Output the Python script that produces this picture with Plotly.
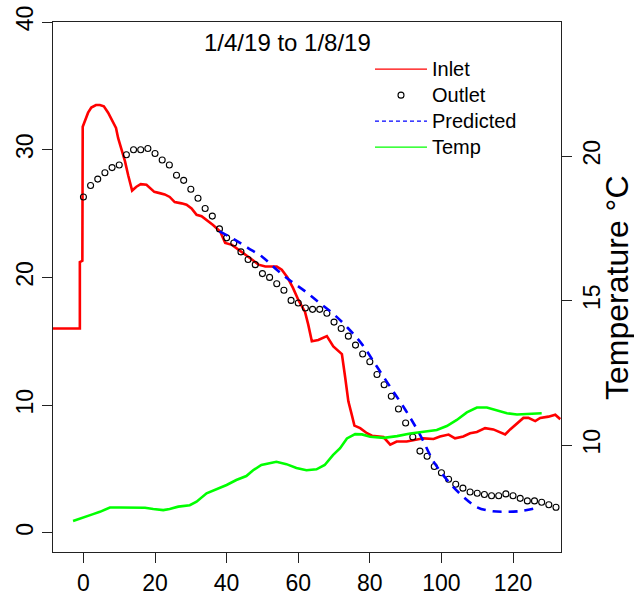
import plotly.graph_objects as go

# ---------------- data ----------------
inlet_x = [-9.0, -1.0, -1.0, -0.3, -0.2, 0.4, 1.3, 2.2, 3.5, 4.6, 5.7, 6.9, 8.1, 9.1, 9.7, 10.6,
           11.6, 12.5, 13.6, 14.8, 16.0, 17.6, 18.5, 19.8, 21.3, 22.7, 24.1, 25.5, 27.4, 28.8,
           30.2, 31.6, 33.0, 34.4, 36.2, 38.2, 39.6, 41.5, 42.8, 44.7, 46.6, 48.9, 50.8, 54.0,
           55.4, 57.0, 58.5, 60.1, 61.9, 62.8, 63.8, 65.6, 68.0, 69.8, 72.2, 73.1, 74.0, 75.0,
           75.7, 77.3, 79.2, 80.6, 83.8, 85.7, 87.5, 90.3, 92.7, 95.0, 97.8, 99.6, 102.0, 103.8,
           106.1, 108.0, 109.9, 112.2, 114.5, 116.4, 117.8, 119.2, 121.1, 122.9, 124.3, 126.2,
           127.6, 129.9, 131.8, 133.2]
inlet_y = [16.0, 16.0, 21.2, 21.3, 31.8, 32.2, 32.9, 33.3, 33.5, 33.5, 33.4, 32.9, 32.3, 31.7, 30.9, 30.1,
           29.1, 28.0, 26.8, 27.1, 27.3, 27.25, 27.0, 26.7, 26.6, 26.5, 26.3, 25.9, 25.8, 25.7,
           25.4, 24.9, 24.8, 24.5, 24.1, 23.6, 22.7, 22.55, 22.3, 21.9, 21.5, 21.0, 20.85, 20.85,
           20.6, 20.0, 19.2, 18.2, 17.3, 16.3, 15.0, 15.1, 15.4, 14.6, 14.0, 12.2, 10.3, 9.2,
           8.4, 8.2, 7.8, 7.6, 7.5, 6.9, 7.15, 7.15, 7.3, 7.4, 7.35, 7.55, 7.7, 7.4,
           7.55, 7.8, 7.9, 8.2, 8.1, 7.9, 7.7, 8.1, 8.6, 9.0, 9.0, 8.75,
           9.0, 9.1, 9.25, 8.9]

outlet_x = list(range(0, 133, 2))
outlet_y = [26.3, 27.2, 27.7, 28.2, 28.6, 28.8, 29.6, 30.0, 30.0, 30.1, 29.7, 29.2, 28.8, 28.0,
            27.6, 26.9, 26.2, 25.4, 24.8, 23.8, 23.1, 22.7, 22.0, 21.4, 21.0, 20.3, 20.0, 19.5,
            19.0, 18.2, 18.0, 17.6, 17.5, 17.5, 17.2, 16.5, 16.0, 15.4, 14.7, 14.0, 13.4, 12.4,
            11.6, 10.7, 9.7, 8.6, 7.5, 6.4, 6.0, 5.2, 4.7, 4.2, 3.8, 3.5, 3.2, 3.1, 3.0, 2.9,
            2.9, 3.05, 2.9, 2.7, 2.5, 2.5, 2.4, 2.2, 2.0]

pred_x = list(range(38, 127, 4))
pred_y = [23.6, 23.0, 22.3, 21.6, 20.6, 19.7, 18.9, 18.0, 17.1, 16.0, 14.7, 13.0, 11.3, 9.6,
          7.7, 5.5, 4.0, 2.85, 2.0, 1.7, 1.65, 1.7, 1.9]

temp_x = [-2.9, -1.0, 0.85, 2.7, 4.6, 7.4, 10.2, 13.9, 17.2, 19.5, 22.3, 24.1, 26.5, 29.7, 31.6,
          34.4, 37.2, 40.0, 42.7, 45.5, 47.4, 49.7, 53.9, 56.7, 59.5, 62.3, 65.1, 67.4, 69.7,
          71.7, 73.6, 75.9, 77.8, 80.1, 83.9, 87.6, 91.3, 95.0, 98.7, 101.5, 104.3, 107.1,
          109.9, 112.7, 115.5, 118.3, 121.1, 123.9, 126.7, 128.0]
temp_y = [7.37, 7.46, 7.52, 7.61, 7.69, 7.84, 7.84, 7.84, 7.83, 7.79, 7.75, 7.79, 7.87, 7.92, 8.04,
          8.33, 8.47, 8.62, 8.79, 8.93, 9.13, 9.31, 9.42, 9.34, 9.21, 9.13, 9.16, 9.31, 9.65,
          9.89, 10.23, 10.38, 10.37, 10.29, 10.25, 10.31, 10.40, 10.46, 10.52, 10.66, 10.87, 11.13,
          11.30, 11.30, 11.21, 11.10, 11.06, 11.07, 11.10, 11.10]

x_ticks = [0, 20, 40, 60, 80, 100, 120]
y_ticks = [0, 10, 20, 30, 40]
y2_ticks = [10, 15, 20]
series_names = ["Inlet", "Outlet", "Predicted", "Temp"]
title_text = "1/4/19 to 1/8/19"
y2_label = "Temperature °C"

FONT = "Liberation Sans, Arial, sans-serif"
RED, BLUE, GREEN = "#FF0000", "#0000FF", "#00FF00"


def leg(name):
    return '<span style="font-size:20px">%s</span>' % name


fig = go.Figure()
# data traces (not in legend)
fig.add_trace(go.Scatter(x=inlet_x, y=inlet_y, mode="lines", showlegend=False,
                         line=dict(color=RED, width=2.6)))
fig.add_trace(go.Scatter(x=outlet_x, y=outlet_y, mode="markers", showlegend=False,
                         marker=dict(symbol="circle-open", size=6, color="black",
                                     line=dict(width=1.1, color="black"))))
fig.add_trace(go.Scatter(x=pred_x, y=pred_y, mode="lines", showlegend=False,
                         line=dict(color=BLUE, width=2.6, dash="9px,7px", shape="spline")))
fig.add_trace(go.Scatter(x=temp_x, y=temp_y, mode="lines", yaxis="y2", showlegend=False,
                         line=dict(color=GREEN, width=2.6)))

# legend keys (thin, like the reference)
fig.add_trace(go.Scatter(x=[None], y=[None], mode="lines", name=leg(series_names[0]),
                         line=dict(color=RED, width=1.2)))
fig.add_trace(go.Scatter(x=[None], y=[None], mode="markers", name=leg(series_names[1]),
                         marker=dict(symbol="circle-open", size=6, color="black",
                                     line=dict(width=1.1, color="black"))))
fig.add_trace(go.Scatter(x=[None], y=[None], mode="lines", name=leg(series_names[2]),
                         line=dict(color=BLUE, width=1.2, dash="4px,3px")))
fig.add_trace(go.Scatter(x=[None], y=[None], mode="lines", name=leg(series_names[3]),
                         line=dict(color=GREEN, width=1.2)))

axis_common = dict(ticks="outside", ticklen=10, tickwidth=1, tickcolor="#222", automargin=False,
                   showgrid=False, zeroline=False, tickfont=dict(size=23, color="black", family=FONT))

fig.update_layout(
    width=634, height=597,
    margin=dict(l=53, r=73, t=22, b=45, autoexpand=False),
    paper_bgcolor="white", plot_bgcolor="white",
    font=dict(family=FONT, color="black"),
    showlegend=True,
    legend=dict(x=0.624, y=0.945, xanchor="left", yanchor="top", itemwidth=52,
                bgcolor="rgba(0,0,0,0)", borderwidth=0,
                font=dict(size=17.7, family=FONT, color="black"),
                tracegroupgap=0),
    xaxis=dict(range=[-8.5, 133.4], tickvals=x_ticks, showline=True, mirror=True,
               linecolor="#222", linewidth=1.2, **axis_common),
    yaxis=dict(range=[-1.5, 40], tickvals=y_ticks, tickangle=-90, showline=True, mirror=True,
               linecolor="#222", linewidth=1.2, **axis_common),
    yaxis2=dict(range=[6.3, 24.64], tickvals=y2_ticks, tickangle=-90, overlaying="y",
                side="right", showline=False, **axis_common),
    annotations=[
        dict(text=title_text, x=0.461, y=0.962, xref="paper", yref="paper",
             xanchor="center", yanchor="middle", showarrow=False,
             font=dict(size=24, family=FONT, color="black")),
        dict(text=y2_label, x=1.11, y=0.498, xref="paper", yref="paper",
             xanchor="center", yanchor="middle", showarrow=False, textangle=-90,
             font=dict(size=32, family=FONT, color="black")),
    ],
)

fig.write_html("out.html", config={"displayModeBar": False},
               post_script="document.body.style.margin='0';document.body.style.overflow='hidden';")
